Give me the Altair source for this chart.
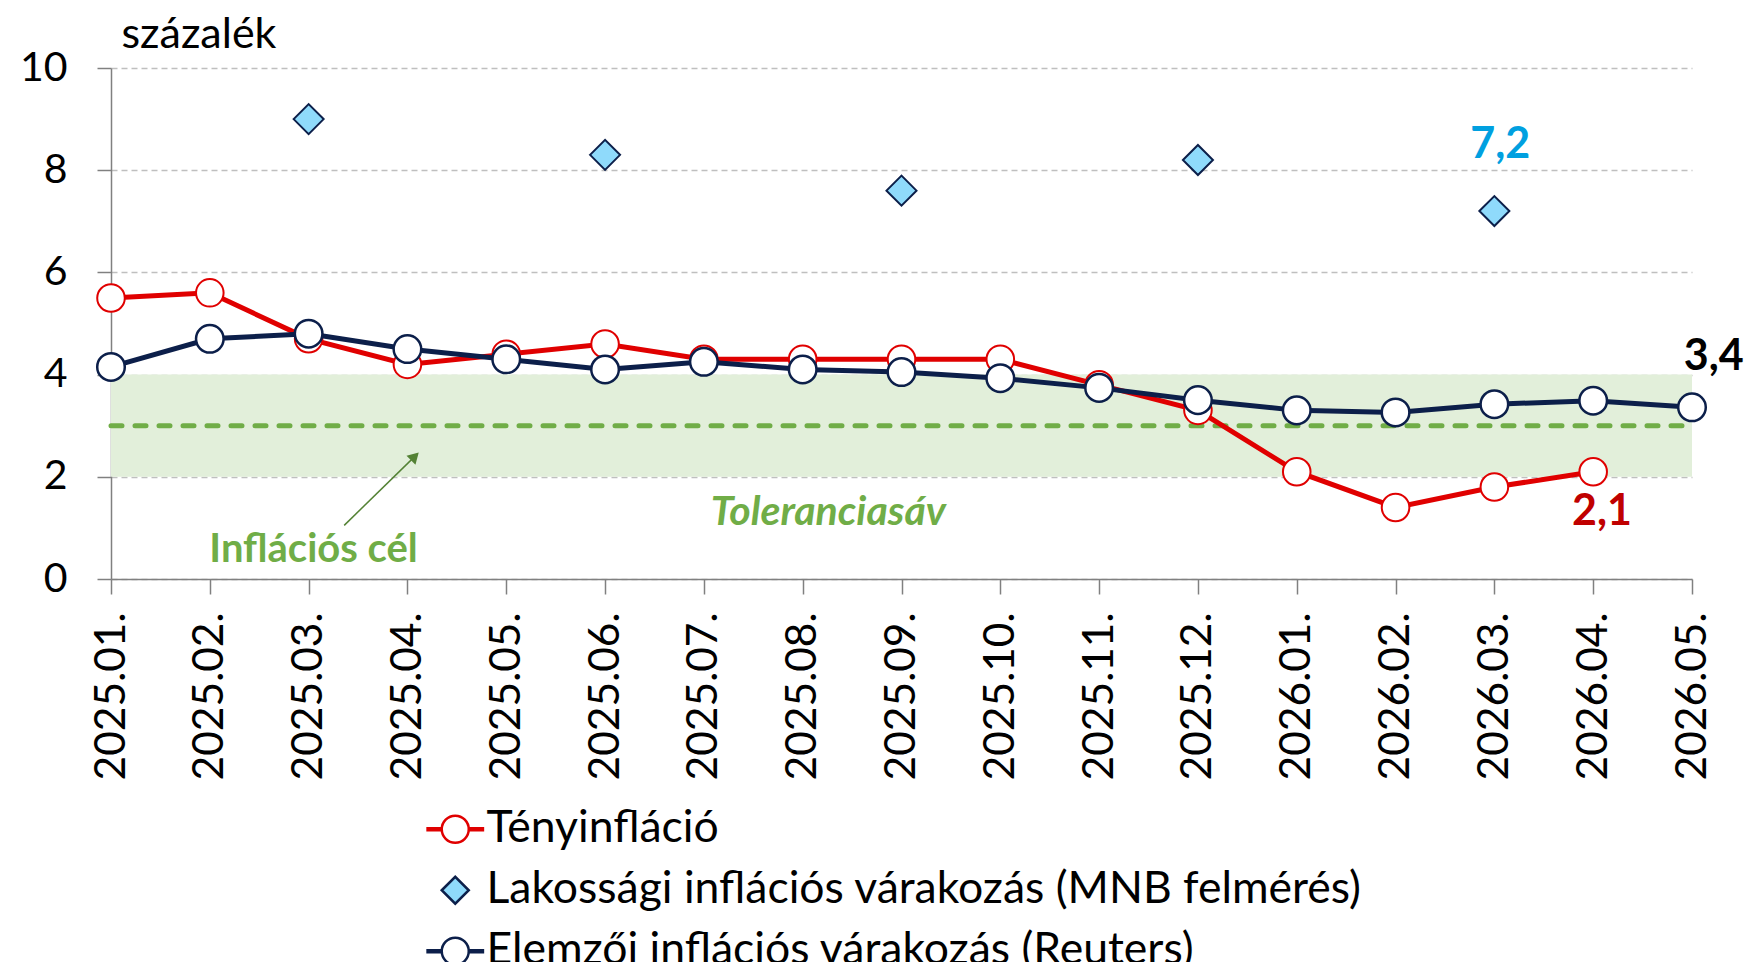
import json
import altair as alt
import pandas as pd

# ---------------- data ----------------
months = ["2025.01.", "2025.02.", "2025.03.", "2025.04.", "2025.05.", "2025.06.",
          "2025.07.", "2025.08.", "2025.09.", "2025.10.", "2025.11.", "2025.12.",
          "2026.01.", "2026.02.", "2026.03.", "2026.04.", "2026.05."]
teny = [5.5, 5.6, 4.7, 4.2, 4.4, 4.6, 4.3, 4.3, 4.3, 4.3, 3.8, 3.3,
        2.1, 1.4, 1.8, 2.1, None]
lakossagi = [None, None, 9.0, None, None, 8.3, None, None, 7.6, None, None, 8.2,
             None, None, 7.2, None, None]
elemzoi = [4.15, 4.7, 4.8, 4.5, 4.3, 4.1, 4.25, 4.1, 4.05, 3.93, 3.74, 3.5,
           3.3, 3.26, 3.42, 3.49, 3.36]
series_names = ["Tényinfláció",
                "Lakossági inflációs várakozás (MNB felmérés)",
                "Elemzői inflációs várakozás (Reuters)"]
band_low, band_high = 2, 4
target = 3
y_ticks = [0, 2, 4, 6, 8, 10]

RED = "#E00000"
NAVY = "#0C1F4A"
LBLUE = "#8FDAFB"
GREEN = "#70AD47"
BANDC = "#E2EFDA"
AXC = "#808080"
FONT = "Lato"

n = len(months)
df = pd.DataFrame({"idx": list(range(n)), "month": months,
                   "teny": teny, "lak": lakossagi, "elem": elemzoi})

label_expr = json.dumps(months) + "[datum.value]"

xscale = alt.Scale(domain=[0, n - 1], nice=False, zero=False)
yscale = alt.Scale(domain=[0, 10], nice=False, zero=True)

xaxis = alt.Axis(values=list(range(n)), labelExpr=label_expr, labelAngle=-90,
                 labelAlign="right", labelBaseline="middle",
                 labelFont=FONT, labelFontSize=42.5, labelColor="black",
                 labelPadding=18, labelFlush=False, labelOverlap=False,
                 tickSize=15, tickColor=AXC, tickWidth=1.5,
                 domainColor=AXC, domainWidth=1.5, grid=False, title=None)
yaxis = alt.Axis(values=y_ticks, grid=True, gridDash=[6, 4], gridColor="#BFBFBF",
                 gridWidth=1.5, domainColor=AXC, domainWidth=1.5,
                 tickColor=AXC, tickSize=14, tickWidth=1.5,
                 labelFont=FONT, labelFontSize=41, labelColor="black",
                 labelPadding=30, title="százalék", titleAngle=0,
                 titleAlign="left", titleBaseline="alphabetic",
                 titleX=10, titleY=-21, titleFont=FONT, titleFontSize=43,
                 titleFontWeight="normal", titleColor="black")


def X(field):
    return alt.X(field, type="quantitative", scale=xscale, axis=xaxis)


def Y(field):
    return alt.Y(field, type="quantitative", scale=yscale, axis=yaxis)


# tolerance band and target
band_df = pd.DataFrame({"x0": [0], "x1": [n - 1], "lo": [band_low], "hi": [band_high], "t": [target]})
band = alt.Chart(band_df).mark_rect(color=BANDC).encode(
    x=X("x0"), x2="x1", y=Y("lo"), y2="hi")
target_line = alt.Chart(band_df).mark_rule(
    color=GREEN, strokeWidth=5, strokeDash=[11, 13], strokeCap="round").encode(
    x=X("x0"), x2="x1", y=Y("t"))

# series
teny_line = alt.Chart(df).mark_line(color=RED, strokeWidth=5).encode(
    x=X("idx"), y=Y("teny"))
teny_pts = alt.Chart(df).mark_point(shape="circle", filled=True, fill="white",
                                    stroke=RED, strokeWidth=2, size=760, opacity=1).encode(
    x=X("idx"), y=Y("teny"))
elem_line = alt.Chart(df).mark_line(color=NAVY, strokeWidth=5).encode(
    x=X("idx"), y=Y("elem"))
elem_pts = alt.Chart(df).mark_point(shape="circle", filled=True, fill="white",
                                    stroke=NAVY, strokeWidth=2.5, size=760, opacity=1).encode(
    x=X("idx"), y=Y("elem"))
lak_pts = alt.Chart(df).mark_point(shape="diamond", filled=True, fill=LBLUE,
                                   stroke=NAVY, strokeWidth=2, size=900, opacity=1).encode(
    x=X("idx"), y=Y("lak"))

# legend (only symbols, the marks are clipped away)
line_circle = ("M-2.05,-0.07L-1,-0.07L-1,0.07L-2.05,0.07Z"
               "M1,-0.07L2.05,-0.07L2.05,0.07L1,0.07Z"
               "M-1,0A1,1 0 1,0 1,0A1,1 0 1,0 -1,0Z")
leg = alt.Legend(title=None, orient="none", legendX=322, legendY=739,
                 direction="vertical", labelFont=FONT, labelFontSize=44.5,
                 labelColor="black", labelLimit=2000, labelOffset=9,
                 rowPadding=16, padding=0, symbolSize=729, symbolStrokeWidth=2.5)
leg_df = pd.DataFrame({"series": series_names})
legend_layer = alt.Chart(leg_df).mark_point(filled=True, clip=True, opacity=1).encode(
    x=alt.value(0), y=alt.value(3000),
    shape=alt.Shape("series:N", scale=alt.Scale(domain=series_names,
                    range=[line_circle, "diamond", line_circle]), legend=leg),
    fill=alt.Fill("series:N", scale=alt.Scale(domain=series_names,
                  range=["white", LBLUE, "white"]), legend=leg),
    stroke=alt.Stroke("series:N", scale=alt.Scale(domain=series_names,
                      range=[RED, NAVY, NAVY]), legend=leg),
)

# annotations
def fmt(v):
    return f"{v:.1f}".replace(".", ",")

lab_df = pd.DataFrame({
    "x": [14.06, 16.22, 15.09],
    "y": [8.5, 4.34, 1.31],
    "text": [fmt(lakossagi[14]), fmt(elemzoi[16]), fmt(teny[15])],
    "c": ["#00A0E0", "#000000", "#C00000"],
})
val_labels = alt.Chart(lab_df).mark_text(font=FONT, fontSize=43, fontWeight="bold",
                                         align="center", baseline="middle").encode(
    x=X("x"), y=Y("y"), text="text:N", color=alt.Color("c:N", scale=None))

note_df = pd.DataFrame({"x": [7.26], "y": [1.29], "text": ["Toleranciasáv"]})
tol_text = alt.Chart(note_df).mark_text(font=FONT, fontSize=41, fontWeight="bold",
                                        fontStyle="italic", color=GREEN,
                                        align="center", baseline="middle").encode(
    x=X("x"), y=Y("y"), text="text:N")
cel_df = pd.DataFrame({"x": [2.05], "y": [0.56], "text": ["Inflációs cél"]})
cel_text = alt.Chart(cel_df).mark_text(font=FONT, fontSize=40, fontWeight="bold",
                                       color=GREEN, align="center",
                                       baseline="middle").encode(
    x=X("x"), y=Y("y"), text="text:N")

arrow_df = pd.DataFrame({"x": [2.36], "y": [1.05], "x2": [3.075], "y2": [2.40]})
arrow_line = alt.Chart(arrow_df).mark_rule(color="#548235", strokeWidth=1.5).encode(
    x=X("x"), y=Y("y"), x2="x2", y2="y2")
arrow_head = alt.Chart(arrow_df).mark_point(shape="triangle-up", filled=True,
                                            color="#548235", size=160, angle=45,
                                            opacity=1).encode(
    x=X("x2"), y=Y("y2"))

chart = alt.layer(
    band, target_line, teny_line, teny_pts, elem_line, elem_pts, lak_pts,
    val_labels, tol_text, cel_text, arrow_line, arrow_head, legend_layer,
).properties(
    width=1581, height=511,
    autosize=alt.AutoSizeParams(type="none"),
    padding={"left": 103, "top": 60, "right": 52, "bottom": 383},
    background="white",
).configure_view(stroke=None)

chart.save("out.html", embed_options={"renderer": "svg", "actions": False})
